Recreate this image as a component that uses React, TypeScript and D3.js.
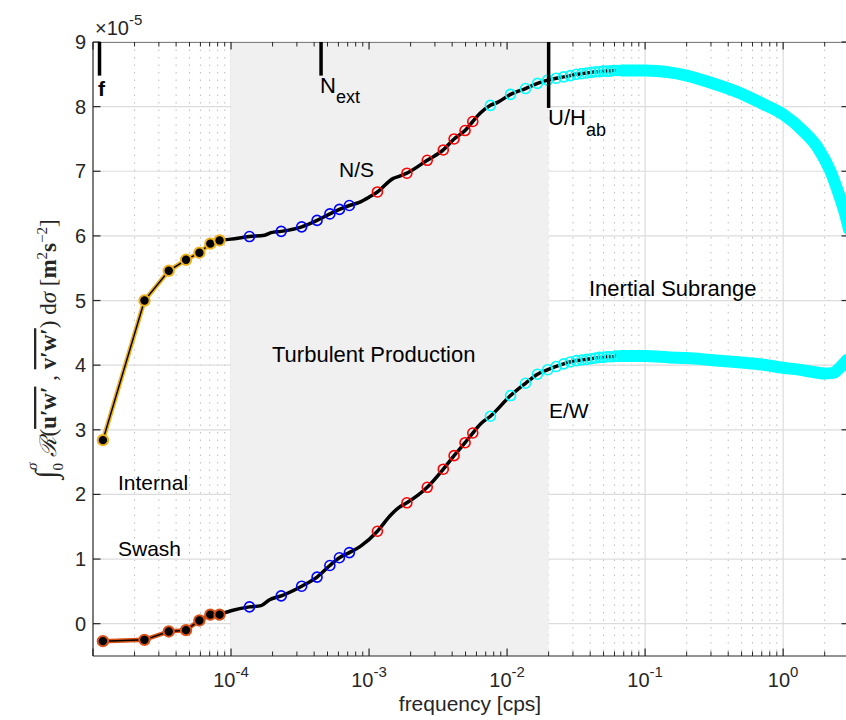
import React from 'react';
import * as d3 from 'd3';

// ---------- data ----------
const dotFreq = [1.18e-5, 2.36e-5, 3.54e-5, 4.72e-5, 5.9e-5, 7.08e-5, 8.26e-5];
const nsDot = [2.84, 5.0, 5.46, 5.63, 5.74, 5.88, 5.93];
const ewDot = [-0.27, -0.25, -0.12, -0.1, 0.05, 0.14, 0.14];

const blueFreq = [1.36e-4, 2.31e-4, 3.25e-4, 4.2e-4, 5.2e-4, 6.1e-4, 7.2e-4];
const nsBlue = [5.99, 6.07, 6.14, 6.24, 6.34, 6.41, 6.47];
const ewBlue = [0.26, 0.43, 0.58, 0.72, 0.9, 1.02, 1.1];

const redFreq = [1.15e-3, 1.88e-3, 2.64e-3, 3.45e-3, 4.13e-3, 4.96e-3, 5.64e-3];
const nsRed = [6.68, 6.97, 7.17, 7.33, 7.5, 7.63, 7.77];
const ewRed = [1.43, 1.87, 2.11, 2.39, 2.6, 2.8, 2.95];

const cyanFreq = [0.00757, 0.0106, 0.0136, 0.0166, 0.0197, 0.0227, 0.0257, 0.0287, 0.0317, 0.0347,
  0.0377, 0.0407, 0.0437, 0.0467, 0.0497, 0.0527, 0.0557, 0.0587, 0.0617, 0.0647, 0.0677];
const nsCyan = [8.02, 8.19, 8.28, 8.36, 8.41, 8.44, 8.46, 8.48, 8.5, 8.51,
  8.52, 8.53, 8.54, 8.54, 8.55, 8.55, 8.55, 8.56, 8.56, 8.56, 8.56];
const ewCyan = [3.21, 3.53, 3.72, 3.86, 3.93, 3.98, 4.02, 4.05, 4.07, 4.08,
  4.09, 4.1, 4.11, 4.12, 4.12, 4.13, 4.13, 4.13, 4.14, 4.14, 4.14];

// extra points along the black trace (wiggles between markers)
const nsWiggleFreq = [1.0e-4, 1.75e-4, 1.95e-4, 8.5e-4, 1.0e-3, 1.5e-3, 1.65e-3, 6.4e-3, 8.6e-3];
const nsWiggle = [5.95, 6.01, 6.05, 6.52, 6.6, 6.89, 6.92, 7.9, 8.07];
const ewWiggleFreq = [1.0e-4, 1.65e-4, 1.9e-4, 8.7e-4, 1.42e-3, 1.65e-3, 6.5e-3];
const ewWiggle = [0.2, 0.28, 0.37, 1.2, 1.67, 1.8, 3.1];

// dense cyan band (overlapping markers) at high frequency
const bandFreq = [0.068, 0.1, 0.15, 0.2, 0.3, 0.5, 0.7, 1.0, 1.4, 1.8, 2.2, 2.5, 2.8, 3.0];
const nsBand = [8.56, 8.56, 8.53, 8.48, 8.37, 8.2, 8.05, 7.88, 7.62, 7.35, 7.0, 6.68, 6.35, 6.1];
const ewBandFreq = [0.068, 0.1, 0.15, 0.2, 0.3, 0.5, 0.7, 1.0, 1.3, 1.7, 2.0, 2.3, 2.6, 2.9];
const ewBand = [4.14, 4.14, 4.12, 4.11, 4.08, 4.04, 4.01, 3.96, 3.93, 3.89, 3.87, 3.88, 3.97, 4.08];

const yTicks = [0, 1, 2, 3, 4, 5, 6, 7, 8, 9];
const xDecades = [-4, -3, -2, -1, 0];

// reference frequencies
const fCoriolis = 1.115e-5;
const fNext = 4.49e-4;
const fUH = 0.02;

// ---------- scales ----------
const X = d3.scaleLog().domain([1e-5, 3]).range([93, 849]);
const Y = d3.scaleLinear().domain([-0.5, 9]).range([656, 42]);

const zip = (a: number[], b: number[]) => a.map((v, i) => [v, b[i]] as [number, number]);
const lineGen = d3.line<[number, number]>().x(d => X(d[0])).y(d => Y(d[1]));
const smoothGen = d3.line<[number, number]>().x(d => X(d[0])).y(d => Y(d[1])).curve(d3.curveMonotoneX);

function trace(dF: number[], dV: number[], bF: number[], bV: number[], rF: number[], rV: number[],
  cF: number[], cV: number[], wF: number[], wV: number[]) {
  const pts = [[dF[dF.length - 1], dV[dV.length - 1]] as [number, number],
    ...zip(bF, bV), ...zip(rF, rV), ...zip(cF, cV), ...zip(wF, wV)];
  pts.sort((a, b) => a[0] - b[0]);
  return pts;
}

const FONT = 'Liberation Sans, Arial, Helvetica, sans-serif';
const SERIF = 'Liberation Serif, DejaVu Serif, serif';

export default function App() {
  const left = X.range()[0];
  const right = X.range()[1];
  const top = Y.range()[1];
  const bottom = Y.range()[0];

  const minor: number[] = [];
  for (let d = -5; d <= 0; d++) {
    for (let m = 2; m <= 9; m++) {
      const f = m * Math.pow(10, d);
      if (f < 3) minor.push(f);
    }
  }

  const nsTrace = trace(dotFreq, nsDot, blueFreq, nsBlue, redFreq, nsRed, cyanFreq, nsCyan, nsWiggleFreq, nsWiggle);
  const ewTrace = trace(dotFreq, ewDot, blueFreq, ewBlue, redFreq, ewRed, cyanFreq, ewCyan, ewWiggleFreq, ewWiggle);

  const yellow = '#EDB120';
  const orange = '#D95319';

  const circles = (fs: number[], vs: number[], color: string, key: string) =>
    fs.map((f, i) => (
      <circle key={key + i} cx={X(f)} cy={Y(vs[i])} r={5} fill="none" stroke={color} strokeWidth={1.6} />
    ));

  const dots = (vs: number[], edge: string, key: string) =>
    dotFreq.map((f, i) => (
      <circle key={key + i} cx={X(f)} cy={Y(vs[i])} r={5.2} fill="#000" stroke={edge} strokeWidth={2} />
    ));

  return (
    <svg width={846} height={720} style={{ position: 'absolute', left: 0, top: 0, background: '#fff' }}
      fontFamily={FONT}>
      <rect x={0} y={0} width={846} height={720} fill="#fff" />
      {/* minor vertical grid (dotted) */}
      {minor.map(f => (
        <line key={'mg' + f} x1={X(f)} x2={X(f)} y1={top} y2={bottom} stroke="#bdbdbd" strokeWidth={1}
          strokeDasharray="1.5 6" />
      ))}
      {/* major grid */}
      {xDecades.map(d => (
        <line key={'xg' + d} x1={X(Math.pow(10, d))} x2={X(Math.pow(10, d))} y1={top} y2={bottom}
          stroke="#dcdcdc" strokeWidth={1.2} />
      ))}
      {yTicks.map(t => (
        <line key={'yg' + t} x1={left} x2={right} y1={Y(t)} y2={Y(t)} stroke="#dcdcdc" strokeWidth={1.2} />
      ))}
      {/* shaded turbulent production region */}
      <rect x={X(1e-4)} y={top} width={X(fUH) - X(1e-4)} height={bottom - top} fill="#f0f0f0" />

      {/* axes box */}
      <line x1={left} x2={right} y1={top + 0.5} y2={top + 0.5} stroke="#808080" strokeWidth={1} />
      <line x1={left} x2={right} y1={bottom} y2={bottom} stroke="#262626" strokeWidth={1.2} />
      <line x1={left} x2={left} y1={top} y2={bottom} stroke="#262626" strokeWidth={1.2} />
      <line x1={right} x2={right} y1={top} y2={bottom} stroke="#262626" strokeWidth={1.2} />
      {/* x ticks */}
      {[-5, ...xDecades].map(d => {
        const x = X(Math.pow(10, d));
        return (
          <g key={'xt' + d}>
            <line x1={x} x2={x} y1={bottom} y2={bottom - 7.5} stroke="#262626" strokeWidth={1.2} />
            <line x1={x} x2={x} y1={top} y2={top + 7.5} stroke="#262626" strokeWidth={1.2} />
          </g>
        );
      })}
      {minor.map(f => (
        <g key={'xm' + f}>
          <line x1={X(f)} x2={X(f)} y1={bottom} y2={bottom - 4.5} stroke="#262626" strokeWidth={1} />
          <line x1={X(f)} x2={X(f)} y1={top} y2={top + 4.5} stroke="#262626" strokeWidth={1} />
        </g>
      ))}
      {yTicks.map(t => (
        <g key={'yt' + t}>
          <line x1={left} x2={left + 7.5} y1={Y(t)} y2={Y(t)} stroke="#262626" strokeWidth={1.2} />
          <line x1={right - 7.5} x2={right} y1={Y(t)} y2={Y(t)} stroke="#262626" strokeWidth={1.2} />
          <text x={86} y={Y(t) + 7} textAnchor="end" fontSize={20} fill="#262626">{t}</text>
        </g>
      ))}
      {xDecades.map(d => (
        <text key={'xl' + d} x={X(Math.pow(10, d))} y={687} textAnchor="middle" fontSize={20} fill="#262626">
          10<tspan dy={-10} fontSize={15}>{d === 0 ? '0' : '-' + Math.abs(d)}</tspan>
        </text>
      ))}
      {/* exponent */}
      <text x={95} y={35} fontSize={20} fill="#262626">
        ×10<tspan dy={-10} fontSize={15}>-5</tspan>
      </text>

      {/* x label */}
      <text x={470} y={711} textAnchor="middle" fontSize={21} fill="#262626">frequency [cps]</text>

      {/* y label */}
      <g transform="translate(56,349) rotate(-90)">
        <text textAnchor="middle" fontFamily={SERIF} fontSize={23} fill="#262626">
          <tspan fontSize={30}>∫</tspan>
          <tspan fontSize={15} dy={7}>0</tspan>
          <tspan fontSize={15} dy={-26} dx={-7} fontStyle="italic">σ</tspan>
          <tspan dy={19} dx={6} fontFamily="DejaVu Serif, serif" fontStyle="italic">ℛ</tspan>
          <tspan>(</tspan>
          <tspan fontWeight="bold" textDecoration="overline">u′w′</tspan>
          <tspan> ,  </tspan>
          <tspan fontWeight="bold" textDecoration="overline">v′w′</tspan>
          <tspan>) d</tspan>
          <tspan fontStyle="italic">σ</tspan>
          <tspan>    [</tspan>
          <tspan fontWeight="bold">m</tspan>
          <tspan fontSize={15} dy={-9}>2</tspan>
          <tspan fontWeight="bold" dy={9}>s</tspan>
          <tspan fontSize={15} dy={-9}>−2</tspan>
          <tspan dy={9}>]</tspan>
        </text>
      </g>

      {/* low-frequency segments (filled dots) */}
      <path d={lineGen(zip(dotFreq, nsDot)) || ''} fill="none" stroke={yellow} strokeWidth={4.5} />
      <path d={lineGen(zip(dotFreq, nsDot)) || ''} fill="none" stroke="#000" strokeWidth={1.5} />
      <path d={lineGen(zip(dotFreq, ewDot)) || ''} fill="none" stroke={orange} strokeWidth={4.5} />
      <path d={lineGen(zip(dotFreq, ewDot)) || ''} fill="none" stroke="#000" strokeWidth={1.5} />

      {/* black traces */}
      <path d={smoothGen(nsTrace) || ''} fill="none" stroke="#000" strokeWidth={3.5} strokeLinejoin="round" />
      <path d={smoothGen(ewTrace) || ''} fill="none" stroke="#000" strokeWidth={3.5} strokeLinejoin="round" />

      {dots(nsDot, yellow, 'nd')}
      {dots(ewDot, orange, 'ed')}
      {circles(blueFreq, nsBlue, '#0000ff', 'nb')}
      {circles(blueFreq, ewBlue, '#0000ff', 'eb')}
      {circles(redFreq, nsRed, '#ff0000', 'nr')}
      {circles(redFreq, ewRed, '#ff0000', 'er')}
      {circles(cyanFreq, nsCyan, '#00ffff', 'nc')}
      {circles(cyanFreq, ewCyan, '#00ffff', 'ec')}

      {/* dense cyan bands */}
      <path d={smoothGen(zip(bandFreq, nsBand)) || ''} fill="none" stroke="#00ffff" strokeWidth={12}
        strokeLinecap="round" strokeLinejoin="round" />
      <path d={smoothGen(zip(ewBandFreq, ewBand)) || ''} fill="none" stroke="#00ffff" strokeWidth={12}
        strokeLinecap="round" strokeLinejoin="round" />

      {/* reference frequency markers */}
      <line x1={X(fCoriolis)} x2={X(fCoriolis)} y1={Y(9)} y2={Y(8.48)} stroke="#000" strokeWidth={3.5} />
      <line x1={X(fNext)} x2={X(fNext)} y1={Y(9)} y2={Y(8.48)} stroke="#000" strokeWidth={3.5} />
      <line x1={X(fUH)} x2={X(fUH)} y1={Y(9)} y2={Y(7.98)} stroke="#000" strokeWidth={3.5} />
      <text x={98} y={96} fontSize={21} fontWeight="bold" fill="#000">f</text>
      <text x={320} y={93} fontSize={22} fill="#000">N<tspan fontSize={18} dy={10}>ext</tspan></text>
      <text x={548} y={125} fontSize={22} fill="#000">U/H<tspan fontSize={18} dy={11}>ab</tspan></text>

      {/* region / component labels */}
      <text x={339} y={177} fontSize={21} fill="#000">N/S</text>
      <text x={549} y={418} fontSize={21} fill="#000">E/W</text>
      <text x={272} y={362} fontSize={22} fill="#000">Turbulent Production</text>
      <text x={589} y={296} fontSize={22} fill="#000">Inertial Subrange</text>
      <text x={118} y={490} fontSize={21} fill="#000">Internal</text>
      <text x={118} y={556} fontSize={21} fill="#000">Swash</text>
    </svg>
  );
}
